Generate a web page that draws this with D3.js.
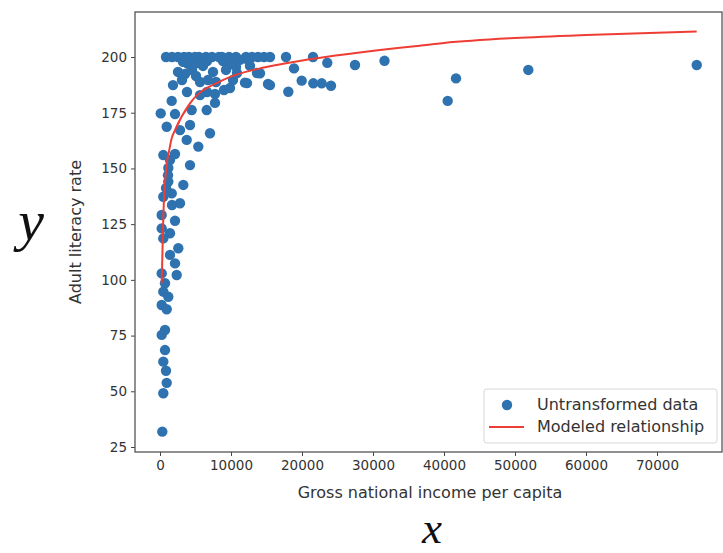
<!DOCTYPE html>
<html>
<head>
<meta charset="utf-8">
<script src="https://cdn.jsdelivr.net/npm/d3@7"></script>
<style>
  body { margin: 0; background: #fff; }
  text { font-family: "DejaVu Sans", sans-serif; }
</style>
</head>
<body>
<div id="chart"></div>
<script>
// scatter data: gross national income per capita vs adult literacy rate
var incomes = [
  75595, 51873, 41690, 40520, 31620, 27465,
  14085, 15493, 18874, 18071, 19958, 23564, 21592, 22775, 24085,
  845, 1690, 2535, 3380, 4085, 4930, 5493, 6479, 7324, 8310, 8732, 9719, 10704, 12113, 12958, 13803, 14648, 15493, 17747, 21550,
  3240, 3944, 4648, 5352, 6057, 6620, 8873, 9860, 11268, 12395, 12676, 10704,
  2535, 3521, 4507, 5071, 10845, 13662, 7465, 9296,
  1831, 5634, 6761, 7888, 10282, 12254, 15212, 3099, 11972,
  3803, 6620, 9014, 9860, 5634, 7747,
  1648, 7747, 6578, 4465, 100, 2113, 944, 2817, 4225, 7042, 3761, 5394,
  465, 2113, 4225, 1169, 1408, 1127, 1169, 3282, 845, 465, 1648, 1690, 2817,
  239, 2113, 239, 1408, 465, 2577, 1408, 2113, 2352, 239, 704, 465, 1169,
  239, 944, 704, 239, 704, 465, 845, 944, 465, 324
];
var literacy = [
  196.4, 194.2, 190.4, 180.3, 198.3, 196.4,
  192.7, 187.4, 194.9, 184.4, 189.4, 197.4, 188.2, 188.2, 187.1,
  200, 200, 200, 200, 200, 200, 200, 200, 200, 200, 200, 200, 200, 200, 200, 200, 200, 200, 200, 200,
  197.8, 196.9, 198.7, 197.3, 196, 198.2, 198.2, 196.9, 198.7, 198.7, 196, 195.5,
  193.3, 192.4, 194.2, 191.5, 192.8, 192.8, 193.3, 194.2,
  187.4, 188.8, 189.7, 188.8, 189.7, 188.3, 187.9, 189.7, 188.5,
  184.3, 184.3, 185.2, 186.1, 182.9, 183.4,
  180.3, 179.4, 176.2, 176.2, 174.7, 174.4, 168.7, 167.2, 169.5, 165.8, 162.8, 159.8,
  156, 156.5, 151.5, 150.2, 153.8, 147, 144.1, 142.6, 141.2, 137.3, 138.8, 133.6, 134.4,
  129.1, 126.5, 123.1, 120.9, 118.6, 114.2, 111.2, 107.4, 102.2, 102.9, 98.5, 94.7, 92.4,
  88.7, 86.8, 77.5, 75.3, 68.5, 63.3, 59.2, 53.8, 49.1, 31.9
];

// modeled relationship
var modelIncome = [240, 465, 940, 1310, 1643, 2113, 4225, 8920, 14085, 16430, 30986, 35211, 40000, 50000, 60000, 75590];
var modelLiteracy = [98.5, 128.3, 151.5, 158.3, 163.5, 167.2, 179.2, 189.7, 194.9, 196.4, 203.1, 204.6, 206.3, 208.5, 209.9, 211.4];

var xTicks = [0, 10000, 20000, 30000, 40000, 50000, 60000, 70000];
var yTicks = [25, 50, 75, 100, 125, 150, 175, 200];

var W = 723, H = 553;
var plot = {left: 135, right: 722, top: 12, bottom: 452};

var svg = d3.select("#chart")
  .append("svg")
    .attr("width", W)
    .attr("height", H);

var x = d3.scaleLinear()
  .domain([-3521, 79155])
  .range([plot.left, plot.right]);

var y = d3.scaleLinear()
  .domain([22.76, 220.2])
  .range([plot.bottom, plot.top]);

// points
var pts = incomes.map(function(d, i) { return {x: d, y: literacy[i]}; });

svg.append("g")
  .selectAll("circle")
  .data(pts)
  .enter()
  .append("circle")
    .attr("cx", function(d) { return x(d.x); })
    .attr("cy", function(d) { return y(d.y); })
    .attr("r", 5.2)
    .style("fill", "#2f72b0");

// fitted curve
var line = d3.line()
  .x(function(d) { return x(d[0]); })
  .y(function(d) { return y(d[1]); })
  .curve(d3.curveMonotoneX);

svg.append("path")
  .datum(modelIncome.map(function(d, i) { return [d, modelLiteracy[i]]; }))
  .attr("d", line)
  .style("fill", "none")
  .style("stroke", "#ee3d35")
  .style("stroke-width", 2);

// axes
var xAxis = svg.append("g")
  .attr("transform", "translate(0," + plot.bottom + ")")
  .call(d3.axisBottom(x).tickValues(xTicks).tickFormat(d3.format("d")).tickSize(4).tickPadding(4));

var yAxis = svg.append("g")
  .attr("transform", "translate(" + plot.left + ",0)")
  .call(d3.axisLeft(y).tickValues(yTicks).tickSize(4).tickPadding(4));

[xAxis, yAxis].forEach(function(a) {
  a.select(".domain").remove();
  a.selectAll("line").style("stroke", "#444");
  a.selectAll("text")
    .style("font-family", "DejaVu Sans, sans-serif")
    .style("font-size", "13.5px")
    .style("fill", "#333");
});

// frame
svg.append("rect")
  .attr("x", plot.left)
  .attr("y", plot.top)
  .attr("width", plot.right - plot.left)
  .attr("height", plot.bottom - plot.top)
  .style("fill", "none")
  .style("stroke", "#555")
  .style("stroke-width", 1.3);

// axis labels
svg.append("text")
  .attr("x", 430)
  .attr("y", 498)
  .attr("text-anchor", "middle")
  .style("font-size", "16px")
  .style("fill", "#333")
  .text("Gross national income per capita");

svg.append("text")
  .attr("transform", "translate(81,232) rotate(-90)")
  .attr("text-anchor", "middle")
  .style("font-size", "16px")
  .style("fill", "#333")
  .text("Adult literacy rate");

// big math labels
svg.append("text")
  .attr("x", 31)
  .attr("y", 240)
  .attr("text-anchor", "middle")
  .style("font-family", "Liberation Serif, serif")
  .style("font-style", "italic")
  .style("font-size", "58px")
  .style("fill", "#111")
  .text("y");

svg.append("text")
  .attr("x", 432)
  .attr("y", 543)
  .attr("text-anchor", "middle")
  .style("font-family", "Liberation Serif, serif")
  .style("font-style", "italic")
  .style("font-size", "45px")
  .style("fill", "#111")
  .text("x");

// legend
var legend = svg.append("g");
legend.append("rect")
  .attr("x", 484)
  .attr("y", 389)
  .attr("width", 233)
  .attr("height", 54)
  .attr("rx", 3)
  .style("fill", "#fff")
  .style("fill-opacity", 0.85)
  .style("stroke", "#d8d8d8");

legend.append("circle")
  .attr("cx", 507)
  .attr("cy", 405)
  .attr("r", 5.2)
  .style("fill", "#2f72b0");

legend.append("line")
  .attr("x1", 489).attr("x2", 524)
  .attr("y1", 427).attr("y2", 427)
  .style("stroke", "#ee3d35")
  .style("stroke-width", 2);

legend.append("text")
  .attr("x", 537).attr("y", 410)
  .style("font-size", "16px")
  .style("fill", "#333")
  .text("Untransformed data");

legend.append("text")
  .attr("x", 537).attr("y", 432)
  .style("font-size", "16px")
  .style("fill", "#333")
  .text("Modeled relationship");
</script>
</body>
</html>
